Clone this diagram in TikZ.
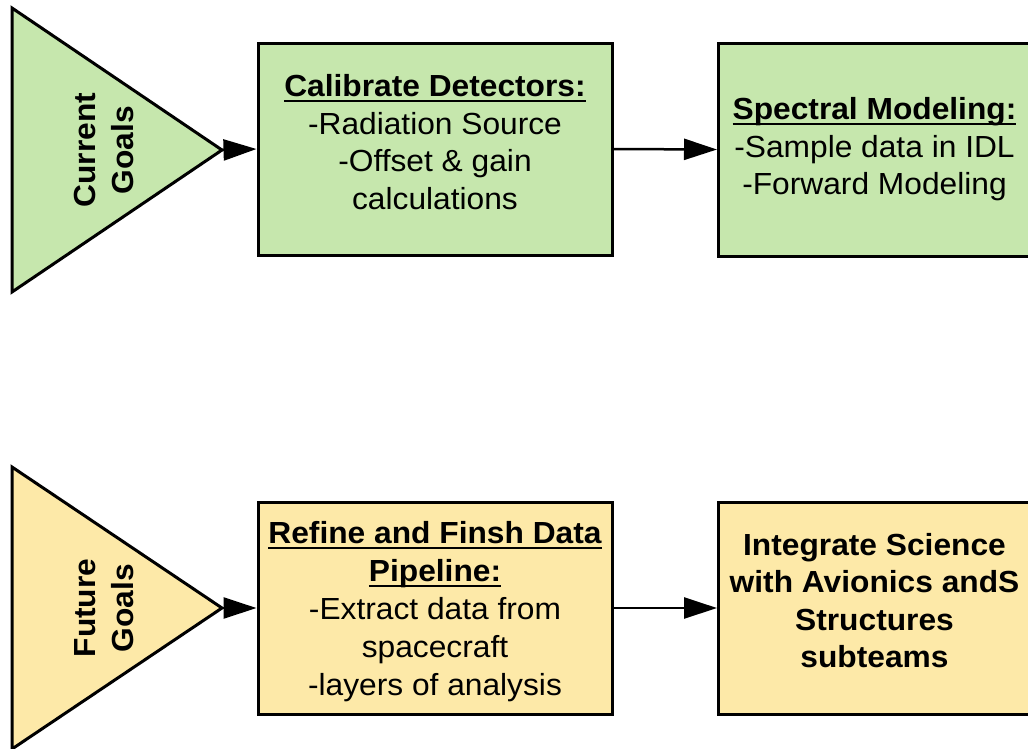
\documentclass[tikz,border=0pt]{standalone}
\usepackage{fontspec}
\setmainfont{Liberation Sans}[FakeStretch=1.04]
\usetikzlibrary{arrows.meta}
\definecolor{gfill}{HTML}{C6E7AD}
\definecolor{yfill}{HTML}{FDE9A8}
\newcommand{\myul}[1]{\leavevmode\setbox0=\hbox{#1}\rlap{\vrule width\wd0 height -3pt depth 5.5pt}\box0}
\tikzset{
  goalbox/.style={draw=black, line width=3pt, inner sep=0pt, align=center, font=\fontsize{30.5}{37.5}\selectfont},
  goaltri/.style={draw=black, line width=3pt, line join=miter},
  tritext/.style={rotate=90, align=center, inner sep=0pt, font=\fontsize{30.5}{38}\selectfont\bfseries},
  flow/.style={line width=2.5pt, -{Triangle[length=33pt,width=21pt]}}
}
\begin{document}
\begin{tikzpicture}[x=1pt,y=-1pt]
\useasboundingbox (0,0) rectangle (1028,748);
\clip (0,0) rectangle (1028,748);
% current goals row
\draw[goaltri, fill=gfill] (12,8) -- (222,150) -- (12,292) -- cycle;
\coordinate (tri1) at (222,150);
\node[tritext] (t1) at (104,150) {Current\\Goals};
\node[goalbox, fill=gfill, minimum width=354pt, minimum height=212pt] (cal) at (435,149)
  {\raisebox{0pt}[\height][\dimexpr\depth+7pt\relax]{\begin{tabular}{@{}c@{}}\textbf{\myul{Calibrate Detectors:}}\\-Radiation Source\\-Offset \& gain\\calculations\end{tabular}}};
\node[goalbox, fill=gfill, minimum width=340pt, minimum height=213pt, anchor=west] (spec) at (717,149.5)
  {\hspace*{-28pt}\begin{tabular}{@{}c@{}}\textbf{\myul{Spectral Modeling:}}\\-Sample data in IDL\\-Forward Modeling\end{tabular}};
\draw[flow] (tri1) -- (cal.west);
\draw[flow] (cal.east) -- (spec.west);
% future goals row
\draw[goaltri, fill=yfill] (12,467) -- (222,608) -- (12,749) -- cycle;
\coordinate (tri2) at (222,608);
\node[tritext] (t2) at (104,608) {Future\\Goals};
\node[goalbox, fill=yfill, minimum width=354pt, minimum height=212pt, font=\fontsize{30.5}{38}\selectfont] (pipe) at (435,608)
  {\raisebox{0pt}[\dimexpr\height+8pt\relax][\depth]{\begin{tabular}{@{}c@{}}\textbf{\myul{Refine and Finsh Data}}\\\textbf{\myul{Pipeline:}}\\-Extract data from\\spacecraft\\-layers of analysis\end{tabular}}};
\node[goalbox, fill=yfill, minimum width=340pt, minimum height=212pt, anchor=west] (integ) at (717,608)
  {\hspace*{-28pt}\begin{tabular}{@{}c@{}}\bfseries Integrate Science\\\bfseries with Avionics andS\\\bfseries Structures\\\bfseries subteams\\[8pt]\end{tabular}};
\draw[flow] (tri2) -- (pipe.west);
\draw[flow] (pipe.east) -- (integ.west);
\end{tikzpicture}
\end{document}
